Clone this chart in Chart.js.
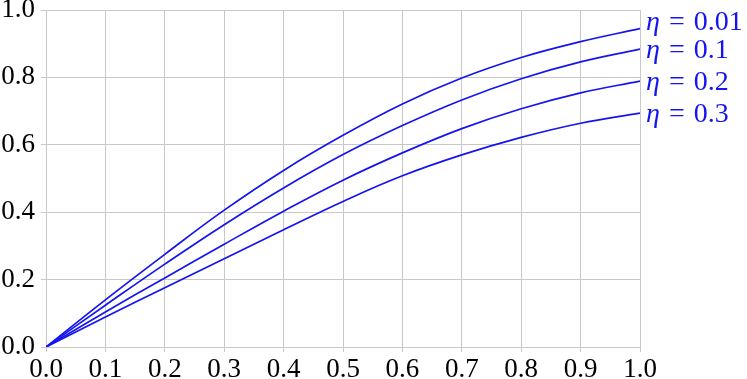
<!DOCTYPE html>
<html>
<head>
<meta charset="utf-8">
<script src="https://cdn.jsdelivr.net/npm/chart.js@4"></script>
<style>
  html, body { margin: 0; padding: 0; background: #fff; }
  #wrap { width: 747px; height: 379px; }
</style>
</head>
<body>
<div id="wrap"><canvas id="chart"></canvas></div>
<script>
const xValues = [0, 0.1, 0.2, 0.3, 0.4, 0.5, 0.6, 0.7, 0.8, 0.9, 1.0];
const seriesNames = ["0.01", "0.1", "0.2", "0.3"];
const eta001 = [0, 0.140, 0.275, 0.406, 0.524, 0.628, 0.721, 0.798, 0.859, 0.906, 0.945];
const eta01 = [0, 0.124, 0.246, 0.363, 0.472, 0.571, 0.657, 0.733, 0.796, 0.846, 0.884];
const eta02 = [0, 0.104, 0.205, 0.305, 0.403, 0.495, 0.576, 0.648, 0.707, 0.754, 0.789];
const eta03 = [0, 0.089, 0.176, 0.262, 0.348, 0.432, 0.508, 0.570, 0.622, 0.664, 0.694];
const allSeries = [eta001, eta01, eta02, eta03];

const blue = "#1414f0";
const gridCol = "#c8c8c8";
const fontFamily = '"Liberation Serif", "DejaVu Serif", serif';

// labels at the right end of each curve, pushed apart so they don't collide
const endLabels = {
  id: "endLabels",
  afterDatasetsDraw(chart) {
    const ctx = chart.ctx;
    const ys = chart.scales.y;
    const right = chart.chartArea.right;
    const sets = chart.data.datasets;
    const centers = sets.map((ds) => ys.getPixelForValue(ds.data[ds.data.length - 1].y));
    for (let i = centers.length - 2; i >= 0; i--) {
      if (centers[i] > centers[i + 1] - 28) centers[i] = centers[i + 1] - 28;
    }
    ctx.save();
    ctx.fillStyle = blue;
    ctx.textBaseline = "alphabetic";
    sets.forEach((ds, i) => {
      const py = centers[i] + 9;
      let px = right + 6;
      ctx.font = "italic 28px " + fontFamily;
      ctx.fillText("η", px, py);
      px += ctx.measureText("η").width + 9;
      ctx.font = "28px " + fontFamily;
      ctx.fillText("=", px, py);
      px += ctx.measureText("=").width + 9;
      ctx.fillText(ds.label, px, py);
    });
    ctx.restore();
  },
};

new Chart(document.getElementById("chart"), {
  type: "line",
  data: {
    datasets: allSeries.map((vals, i) => ({
      label: seriesNames[i],
      data: xValues.map((x, j) => ({ x, y: vals[j] })),
      borderColor: blue,
      borderWidth: 1.7,
      pointRadius: 0,
      fill: false,
      tension: 0.4,
    })),
  },
  options: {
    responsive: true,
    maintainAspectRatio: false,
    animation: false,
    layout: { padding: { top: 10, right: 107, left: 0, bottom: 0 } },
    plugins: { legend: { display: false }, tooltip: { enabled: false } },
    scales: {
      x: {
        type: "linear",
        min: 0,
        max: 1,
        border: { display: false },
        grid: { color: gridCol, tickLength: 5, lineWidth: 1 },
        ticks: {
          stepSize: 0.1,
          color: "#000",
          padding: 2,
          maxRotation: 0,
          font: { family: fontFamily, size: 27 },
          callback: (v) => v.toFixed(1),
        },
        afterFit: (s) => { s.height = 32; },
      },
      y: {
        min: 0,
        max: 1,
        border: { display: false },
        grid: { color: gridCol, tickLength: 5, lineWidth: 1 },
        ticks: {
          stepSize: 0.2,
          color: "#000",
          padding: 6,
          font: { family: fontFamily, size: 27 },
          callback: (v) => v.toFixed(1),
        },
        afterFit: (s) => { s.width = 46; s.paddingTop = 0; s.paddingBottom = 0; },
      },
    },
  },
  plugins: [endLabels],
});
</script>
</body>
</html>
